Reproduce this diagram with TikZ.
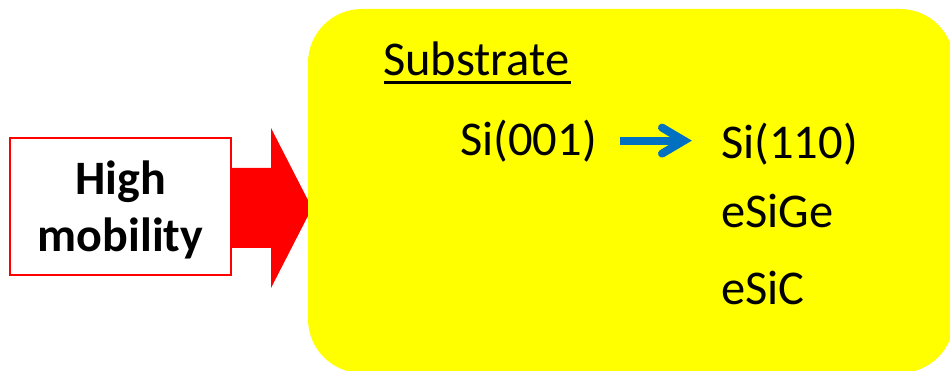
\documentclass[tikz,border=0pt]{standalone}
\usepackage{fontspec}
\setmainfont{Carlito}
\definecolor{slideyellow}{HTML}{FFFF00}
\definecolor{slidered}{HTML}{FF0000}
\definecolor{slideblue}{HTML}{0070C0}
\begin{document}
\begin{tikzpicture}[x=1pt,y=-1pt,
  bigtext/.style={font=\fontsize{48.5}{58}\selectfont, inner sep=0pt, text=black},
  labelbox/.style={draw=slidered, line width=2pt, fill=white,
    minimum width=221pt, minimum height=137pt, inner sep=0pt,
    align=center, font=\bfseries\fontsize{48}{57}\selectfont},
  panel/.style={fill=slideyellow, rounded corners=54pt,
    minimum width=646pt, minimum height=364pt, inner sep=0pt},
  blueline/.style={draw=slideblue, line width=8pt}]
\useasboundingbox (0,0) rectangle (950,371);
\clip (0,0) rectangle (950,371);

% label box on the left
\node[labelbox] (hm) at (120.5,206.5) {\rule{0pt}{40pt}High\\mobility};

% big red block arrow from the label into the panel
\path ([yshift=-1.5pt]hm.east) coordinate (ac);
\fill[slidered] ([yshift=40pt]ac) -- ++(39pt,0pt) -- ++(0pt,40pt)
  -- ++(41pt,-80pt) -- ++(-41pt,-80pt) -- ++(0pt,40pt) -- ++(-39pt,0pt) -- cycle;

% yellow panel
\node[panel] (sub) at (631,191) {};

% panel texts
\node[bigtext, anchor=base west] (title) at (383,76) {Substrate};
\draw[line width=3pt] ([shift={(1pt,-7pt)}]title.base west) -- ([shift={(1pt,-7pt)}]title.base east);
\node[bigtext, anchor=base west] (s001) at (460,156) {Si(001)};
\node[bigtext, anchor=base west] (s110) at (721,159) {Si(110)};
\node[bigtext, anchor=base west] (sige) at (721,228) {eSiGe};
\node[bigtext, anchor=base west] (sic) at (721,305) {eSiC};

% blue arrow between the two orientations
\path ([xshift=-37pt]s110.west) coordinate (tipx);
\path ([yshift=1pt]tipx |- s001.east) coordinate (bt);
\draw[blueline, line cap=butt] ([xshift=-64pt]bt) -- ([xshift=-4pt]bt);
\draw[blueline, line cap=round, line join=miter]
  ([shift={(-22pt,13pt)}]bt) -- (bt) -- ([shift={(-22pt,-13pt)}]bt);
\end{tikzpicture}
\end{document}
